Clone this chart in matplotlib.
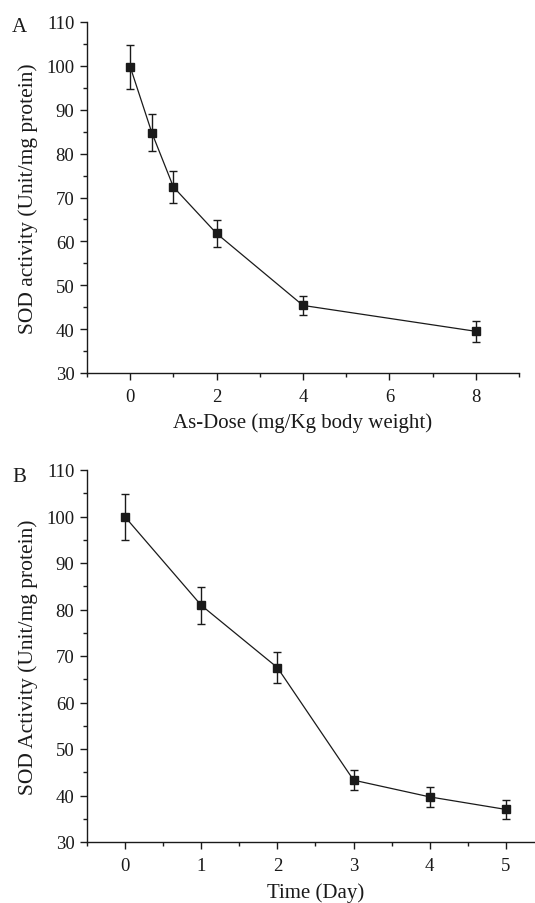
import numpy as np
import matplotlib
matplotlib.use("Agg")
import matplotlib.pyplot as plt
from matplotlib.ticker import MultipleLocator

# panel A: dose response
dose = [0, 0.5, 1, 2, 4, 8]
sod_dose = [99.8, 84.8, 72.4, 61.8, 45.4, 39.5]
err_dose = [5.0, 4.3, 3.6, 3.0, 2.2, 2.4]

# panel B: time course
days = [0, 1, 2, 3, 4, 5]
sod_time = [99.9, 80.9, 67.5, 43.3, 39.7, 37.0]
err_time = [5.0, 4.0, 3.4, 2.2, 2.1, 2.0]

plt.rcParams['font.family'] = ['Liberation Serif', 'DejaVu Serif']
col = '#1a1a1a'

fig = plt.figure(figsize=(5.35, 9.04), dpi=100)
W, H = 535.0, 904.0

def style(ax, xmaj, xmin_):
    ax.spines['top'].set_visible(False)
    ax.spines['right'].set_visible(False)
    for s in ('left', 'bottom'):
        ax.spines[s].set_linewidth(1.0)
        ax.spines[s].set_color(col)
    ax.set_ylim(30, 110)
    ax.yaxis.set_major_locator(MultipleLocator(10))
    ax.yaxis.set_minor_locator(MultipleLocator(5))
    ax.xaxis.set_major_locator(MultipleLocator(xmaj))
    ax.xaxis.set_minor_locator(MultipleLocator(xmin_))
    ax.tick_params(axis='y', which='major', direction='out', length=5, width=1,
                   labelsize=13.5, pad=4, colors=col)
    ax.tick_params(axis='y', which='minor', direction='out', length=3, width=1, colors=col)
    ax.tick_params(axis='x', which='major', direction='out', length=5, width=1,
                   labelsize=13.5, pad=6, colors=col)
    ax.tick_params(axis='x', which='minor', direction='out', length=3, width=1, colors=col)

# panel A
axA = fig.add_axes([87 / W, 1 - 374 / H, 432 / W, 351 / H])
axA.errorbar(dose, sod_dose, yerr=err_dose, color=col, lw=0.9, marker='s', ms=5.5,
             mfc=col, mec=col, capsize=3, elinewidth=1, capthick=1)
axA.set_xlim(-1, 9)
style(axA, 2, 1)
axA.set_xlabel('As-Dose (mg/Kg body weight)', fontsize=15, color=col, labelpad=5)
axA.set_ylabel('SOD activity (Unit/mg protein)', fontsize=15.5, color=col, labelpad=6)
fig.text(12 / W, 1 - 32 / H, 'A', fontsize=15, color=col)

# panel B
axB = fig.add_axes([87 / W, 1 - 843 / H, 457 / W, 372 / H])
axB.errorbar(days, sod_time, yerr=err_time, color=col, lw=0.9, marker='s', ms=5.5,
             mfc=col, mec=col, capsize=3, elinewidth=1, capthick=1)
axB.set_xlim(-0.5, 5.5)
style(axB, 1, 0.5)
axB.set_xlabel('Time (Day)', fontsize=15, color=col, labelpad=5.5)
axB.set_ylabel('SOD Activity (Unit/mg protein)', fontsize=15.5, color=col, labelpad=6)
fig.text(12 / W, 1 - 482 / H, 'B', fontsize=15, color=col)

fig.savefig('out.png', dpi=100)
